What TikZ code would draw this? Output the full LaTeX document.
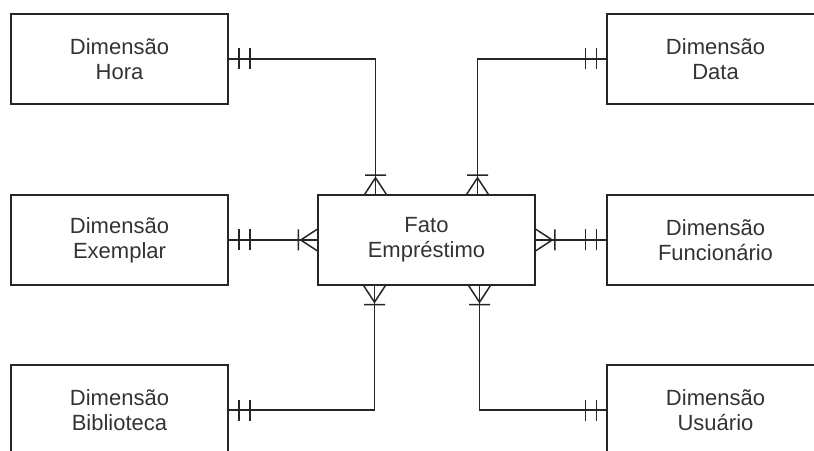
\documentclass[tikz,border=0pt]{standalone}
\usepackage{fontspec}
\setmainfont{Liberation Sans}
\usetikzlibrary{arrows.meta}

% "exactly one" end: two bars
\pgfdeclarearrow{
  name = ER One,
  setup code = {
    \pgfarrowssettipend{0pt}
    \pgfarrowssetlineend{0pt}
    \pgfarrowssetbackend{-21pt}
    \pgfarrowshullpoint{0pt}{10.5pt}
    \pgfarrowshullpoint{0pt}{-10.5pt}
    \pgfarrowshullpoint{-21pt}{10.5pt}
    \pgfarrowshullpoint{-21pt}{-10.5pt}
  },
  drawing code = {
    \pgfpathmoveto{\pgfqpoint{-10pt}{-10.5pt}}
    \pgfpathlineto{\pgfqpoint{-10pt}{10.5pt}}
    \pgfpathmoveto{\pgfqpoint{-21pt}{-10.5pt}}
    \pgfpathlineto{\pgfqpoint{-21pt}{10.5pt}}
    \pgfusepathqstroke
  }
}

% "one or many" end: bar plus crow's foot
\pgfdeclarearrow{
  name = ER Many,
  setup code = {
    \pgfarrowssettipend{0pt}
    \pgfarrowssetlineend{0pt}
    \pgfarrowssetbackend{-19pt}
    \pgfarrowshullpoint{0pt}{10.8pt}
    \pgfarrowshullpoint{0pt}{-10.8pt}
    \pgfarrowshullpoint{-19pt}{10.5pt}
    \pgfarrowshullpoint{-19pt}{-10.5pt}
  },
  drawing code = {
    \pgfpathmoveto{\pgfqpoint{0pt}{10.8pt}}
    \pgfpathlineto{\pgfqpoint{-16.5pt}{0pt}}
    \pgfpathlineto{\pgfqpoint{0pt}{-10.8pt}}
    \pgfpathmoveto{\pgfqpoint{-19pt}{-10.5pt}}
    \pgfpathlineto{\pgfqpoint{-19pt}{10.5pt}}
    \pgfusepathqstroke
  }
}

\begin{document}
\begin{tikzpicture}[x=1pt, y=1pt,
    table box/.style={draw=black!85, line width=1.5pt, minimum width=217pt,
      minimum height=90pt, inner sep=0pt, align=center, text=black!80,
      font=\fontsize{22}{25}\selectfont},
    er link/.style={draw=black!85, line width=1.5pt, {ER One}-{ER Many}}]

  \useasboundingbox (0, 0) rectangle (814, 450);
  \clip (0, 0) rectangle (814, 450);

  % ---- Fact table in the middle ----
  \node[table box] (fato) at (426.5, 210) {Fato\\Empréstimo};

  % ---- Dimensions, left column ----
  \node[table box] (hora)       at (119.5, 391) {Dimensão\\Hora};
  \node[table box] (exemplar)   at (119.5, 210) {Dimensão\\Exemplar};
  \node[table box] (biblioteca) at (119.5, 40)  {Dimensão\\Biblioteca};

  % ---- Dimensions, right column ----
  \node[table box] (data)        at (715.5, 391) {Dimensão\\Data};
  \node[table box] (funcionario) at (715.5, 210) {Dimensão\\Funcionário};
  \node[table box] (usuario)     at (715.5, 40)  {Dimensão\\Usuário};

  % ---- Links: one dimension row, many fact rows ----
  \draw[er link] (hora.east) -| ([xshift=-51pt]fato.north);
  \draw[er link] (data.west) -| ([xshift=51pt]fato.north);
  \draw[er link] (exemplar) -- (fato);
  \draw[er link] (funcionario) -- (fato);
  \draw[er link] (biblioteca.east) -| ([xshift=-52pt]fato.south);
  \draw[er link] (usuario.west) -| ([xshift=53pt]fato.south);

\end{tikzpicture}
\end{document}
